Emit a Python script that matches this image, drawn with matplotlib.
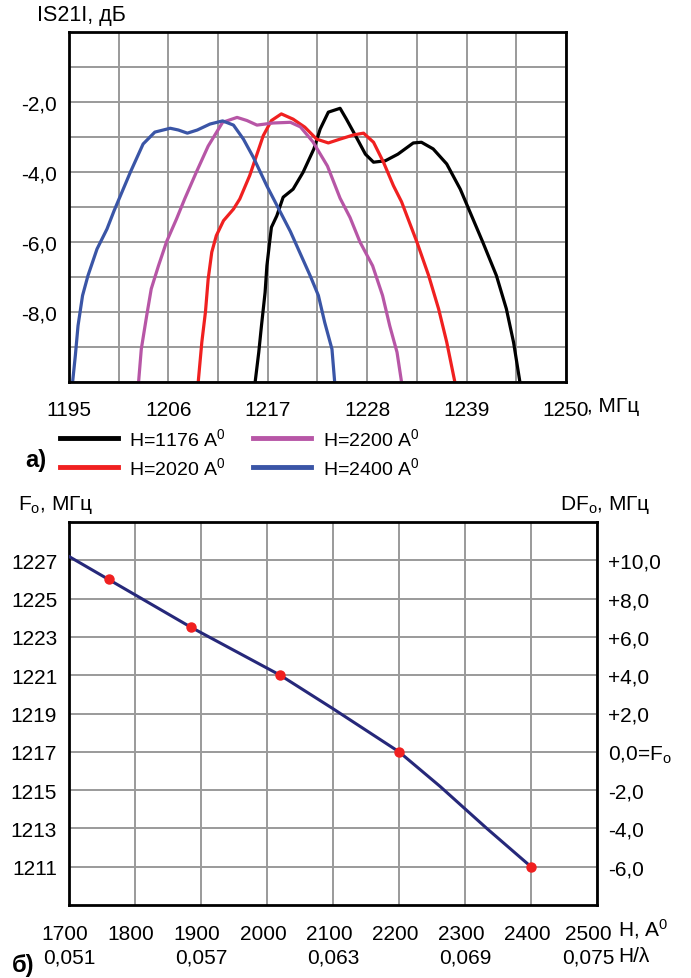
import matplotlib
matplotlib.use("Agg")
import matplotlib.pyplot as plt
from matplotlib.lines import Line2D
from matplotlib.transforms import blended_transform_factory as btf, ScaledTranslation
import numpy as np

plt.rcParams['font.family'] = ['Liberation Sans', 'DejaVu Sans']
plt.rcParams['mathtext.default'] = 'regular'

# ---------------- data: panel a) ----------------
blue_f = [1195.4, 1195.7, 1196.0, 1196.5, 1197.1, 1198.1, 1199.2, 1200.0, 1201.8, 1203.2, 1204.5,
          1206.2, 1207.1, 1208.1, 1209.2, 1210.6, 1212.0, 1213.2, 1214.3, 1215.4, 1216.9, 1218.4,
          1219.5, 1221.7, 1222.6, 1223.3, 1224.1, 1224.4]
blue_db = [-10.0, -9.25, -8.39, -7.53, -6.96, -6.2, -5.63, -5.1, -4.0, -3.2, -2.86,
           -2.75, -2.8, -2.89, -2.8, -2.63, -2.54, -2.66, -3.06, -3.58, -4.4, -5.15,
           -5.7, -6.97, -7.53, -8.3, -9.06, -10.0]

mag_f = [1202.7, 1203.0, 1203.6, 1204.1, 1204.9, 1205.8, 1206.9, 1207.8, 1209.1, 1210.4, 1212.0,
         1213.6, 1214.7, 1215.8, 1217.6, 1219.5, 1220.6, 1222.0, 1223.6, 1225.0, 1226.1, 1227.2,
         1228.6, 1229.7, 1230.5, 1231.3, 1231.8]
mag_db = [-10.0, -9.06, -8.1, -7.34, -6.68, -5.99, -5.34, -4.77, -4.0, -3.26, -2.58,
          -2.44, -2.53, -2.66, -2.6, -2.58, -2.71, -3.14, -3.83, -4.75, -5.3, -6.0,
          -6.68, -7.53, -8.4, -9.15, -10.0]

red_f = [1209.3, 1209.7, 1210.1, 1210.4, 1210.8, 1211.3, 1212.1, 1213.2, 1213.9, 1215.0, 1216.5,
         1217.4, 1218.5, 1219.8, 1221.1, 1222.4, 1223.7, 1225.0, 1226.5, 1227.6, 1228.7, 1229.8,
         1230.9, 1231.8, 1233.5, 1234.8, 1235.9, 1236.8, 1237.7]
red_db = [-10.0, -8.86, -8.0, -7.06, -6.29, -5.82, -5.39, -5.06, -4.77, -4.1, -2.96,
          -2.53, -2.34, -2.49, -2.72, -3.06, -3.17, -3.06, -2.94, -2.89, -3.15, -3.72,
          -4.39, -4.85, -6.0, -6.96, -7.91, -8.86, -10.0]

blk_f = [1215.6, 1216.0, 1216.3, 1216.7, 1216.9, 1217.2, 1217.4, 1218.0, 1218.7, 1219.8, 1220.9,
         1222.1, 1222.8, 1223.7, 1225.0, 1225.7, 1226.7, 1227.8, 1228.7, 1230.0, 1231.4, 1233.1,
         1234.0, 1235.3, 1236.8, 1238.3, 1240.8, 1242.3, 1243.4, 1244.2, 1244.9]
blk_db = [-10.0, -9.15, -8.39, -7.44, -6.68, -6.01, -5.58, -5.25, -4.72, -4.49, -4.01,
          -3.34, -2.77, -2.29, -2.18, -2.49, -2.96, -3.49, -3.72, -3.68, -3.49, -3.17,
          -3.15, -3.34, -3.77, -4.49, -6.01, -6.96, -7.91, -8.87, -10.0]

series_labels = ["H=1176 A$^0$", "H=2020 A$^0$", "H=2200 A$^0$", "H=2400 A$^0$"]
series_colors = ["#000000", "#f02020", "#b756a6", "#3a55a6"]

xa_ticklabels = ["1195", "1206", "1217", "1228", "1239", "1250"]
ya_ticklabels = ["-2,0", "-4,0", "-6,0", "-8,0"]

# ---------------- data: panel б) ----------------
line_H = [1700, 1760, 1885, 2020, 2100, 2200, 2262, 2333, 2400]
line_F = [1227.2, 1226.0, 1223.5, 1221.0, 1219.25, 1217.0, 1215.2, 1213.0, 1211.0]
pts_H = [1760, 1885, 2020, 2200, 2400]
pts_F = [1226.0, 1223.5, 1221.0, 1217.0, 1211.0]
left_ticks = [1211, 1213, 1215, 1217, 1219, 1221, 1223, 1225, 1227]
right_labels = ["-6,0", "-4,0", "-2,0", "0,0=F$_o$", "+2,0", "+4,0", "+6,0", "+8,0", "+10,0"]
H_ticks = [1700, 1800, 1900, 2000, 2100, 2200, 2300, 2400, 2500]
hl_pos = [1700, 1900, 2100, 2300, 2500]
hl_labels = ["0,051", "0,057", "0,063", "0,069", "0,075"]

W, H = 691, 979
fig = plt.figure(figsize=(W / 100, H / 100), dpi=100)

def fx(px):
    return px / W

def fy(py):
    return 1 - py / H

FS = 15
LFS = 14
GRID = dict(color="#9a9a9a", linewidth=1.4)

# ---------------- panel a ----------------
ax = fig.add_axes([fx(69), fy(383), fx(566) - fx(69), fy(33) - fy(383)])
ax.set_xlim(1195, 1250)
ax.set_ylim(-10, 0)
ax.set_xticks([1195, 1206, 1217, 1228, 1239, 1250], labels=xa_ticklabels)
ax.set_xticks(np.arange(1195, 1250.1, 5.5), minor=True)
ax.set_yticks([-2, -4, -6, -8], labels=ya_ticklabels)
ax.set_yticks(np.arange(-10, 0.1, 1), minor=True)
ax.grid(True, which="both", **GRID)
ax.set_axisbelow(True)
ax.tick_params(which="both", length=0, labelsize=FS)
ax.tick_params(axis="x", pad=13)
ax.tick_params(axis="y", pad=8.5)
for s in ax.spines.values():
    s.set_linewidth(2.0)

for f, d, c in zip([blk_f, red_f, mag_f, blue_f], [blk_db, red_db, mag_db, blue_db], series_colors):
    ax.plot(f, d, color=c, linewidth=2.3, solid_joinstyle="round")

fig.text(fx(37), fy(15), "IS21I, дБ", fontsize=FS + 0.5, va="center", ha="left")
fig.text(fx(587), fy(407), ", МГц", fontsize=FS, va="center", ha="left")

# legend (manual)
leg_rows = [439, 468]
leg_cols = [(60, 118, 129), (253, 311, 323)]
order = [(0, 0), (1, 0), (0, 1), (1, 1)]  # (row, col) for each series
for (r, cidx), lab, col in zip(order, series_labels, series_colors):
    x0, x1, xt = leg_cols[cidx]
    yy = leg_rows[r]
    fig.add_artist(Line2D([fx(x0), fx(x1)], [fy(yy), fy(yy)], color=col, linewidth=3.5))
    fig.text(fx(xt), fy(yy), lab, fontsize=LFS, va="center", ha="left")
fig.text(fx(25), fy(461), "а)", fontsize=17, fontweight="bold", va="center", ha="left")

# ---------------- panel b ----------------
bx = fig.add_axes([fx(69), fy(906), fx(597) - fx(69), fy(523) - fy(906)])
bx.set_xlim(1700, 2500)
bx.set_ylim(1209, 1229)
bx.set_xticks(H_ticks, labels=[str(h) for h in H_ticks])
bx.set_yticks(left_ticks, labels=[str(t) for t in left_ticks])
bx.grid(True, **GRID)
bx.set_axisbelow(True)
bx.tick_params(length=0, labelsize=FS)
bx.tick_params(axis="x", pad=14)
bx.tick_params(axis="y", pad=8.5)
for s in bx.spines.values():
    s.set_linewidth(2.0)

# small leftward shift of bottom tick labels, as in the reference
for i, lab in enumerate(bx.get_xticklabels()):
    dx = -9 if i == len(H_ticks) - 1 else -4
    lab.set_transform(lab.get_transform() + ScaledTranslation(dx / 100, 0, fig.dpi_scale_trans))

bx.plot(line_H, line_F, color="#26287a", linewidth=2.2, zorder=3)
bx.plot(pts_H, pts_F, "o", color="#f02020", markersize=6.5, zorder=4)

tx = bx.twinx()
tx.set_ylim(1209, 1229)
tx.set_yticks(left_ticks, labels=right_labels)
tx.tick_params(length=0, labelsize=FS, pad=8)
for s in tx.spines.values():
    s.set_visible(False)

tr = btf(bx.transData, fig.transFigure)
for i, (p, lab) in enumerate(zip(hl_pos, hl_labels)):
    t = bx.text(p, fy(958), lab, transform=tr, fontsize=FS, ha="center", va="center")
    if i == len(hl_pos) - 1:
        t.set_transform(tr + ScaledTranslation(-9 / 100, 0, fig.dpi_scale_trans))

fig.text(fx(618), fy(929), "H, A$^0$", fontsize=FS, va="center", ha="left")
fig.text(fx(618), fy(957), "H/λ", fontsize=FS, va="center", ha="left")
fig.text(fx(12), fy(966), "б)", fontsize=17, fontweight="bold", va="center", ha="left")
fig.text(fx(18), fy(505), "F$_o$, МГц", fontsize=FS, va="center", ha="left")
fig.text(fx(560), fy(505), "DF$_o$, МГц", fontsize=FS, va="center", ha="left")

fig.savefig("out.png", dpi=100, facecolor="white")
